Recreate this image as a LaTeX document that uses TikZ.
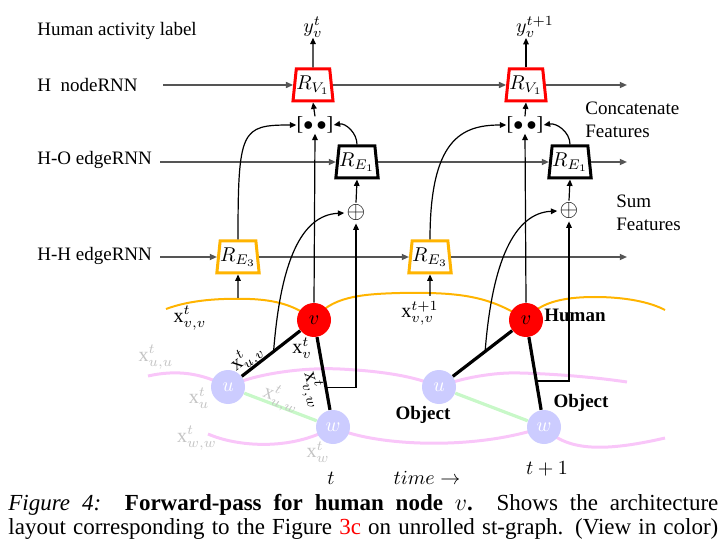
\documentclass[tikz,border=0pt]{standalone}
\usepackage{fontspec}
\setmainfont{Liberation Serif}
\usetikzlibrary{shapes.geometric,arrows.meta,calc}
\definecolor{hline}{HTML}{555555}
\definecolor{orng}{HTML}{FFB400}
\definecolor{pinkc}{HTML}{F9C6F9}
\definecolor{lav}{HTML}{CCCCFF}
\definecolor{grn}{HTML}{C8F8C8}
\definecolor{gtext}{HTML}{C4C4C4}
\begin{document}
\begin{tikzpicture}[x=0.5pt,y=-0.5pt,
  rnn/.style={trapezium, trapezium angle=80, trapezium stretches=true,
    minimum width=20pt, minimum height=16pt, inner sep=0pt, line width=1.5pt,
    fill=white, font=\fontsize{10}{12}\selectfont},
  hl/.style={draw=hline, line width=0.8pt, -{Triangle[length=3.6pt,width=3pt]}},
  ar/.style={draw=black, line width=0.6pt, -{Triangle[length=3.2pt,width=2.8pt]}},
  lbl/.style={font=\fontsize{9.5}{11.5}\selectfont, anchor=west, inner sep=0pt},
  xl/.style={font=\fontsize{10}{12}\selectfont, inner sep=0pt},
  gl/.style={xl, text=gtext},
  bl/.style={font=\fontsize{9.5}{11.5}\selectfont\bfseries, inner sep=0pt},
  hum/.style={circle, fill=red, minimum size=17pt, inner sep=0pt, font=\fontsize{10}{12}\selectfont},
  obj/.style={circle, fill=lav, text=white, minimum size=17pt, inner sep=0pt, font=\fontsize{10}{12}\selectfont},
  capl/.style={anchor=base west, inner sep=0pt, font=\fontsize{11.5}{13}\selectfont}]
\useasboundingbox (0,0) rectangle (727,555);

% row labels
\node[lbl] (lab0) at (37,31) {Human activity label};
\node[lbl] (lab1) at (37,85) {H\ \ nodeRNN};
\node[lbl] (lab2) at (37,160) {H-O edgeRNN};
\node[lbl] (lab3) at (37,256) {H-H edgeRNN};

% st-graph curves (drawn first, behind nodes)
\draw[orng, line width=1pt] (166,309) .. controls (190,300) and (220,298) .. (250,299)
  .. controls (275,300) and (295,305) .. (314,320);
\draw[orng, line width=1pt] (314,320) .. controls (330,297) and (360,294) .. (400,293)
  .. controls (460,292) and (490,296) .. (526,320);
\draw[orng, line width=1pt] (526,320) .. controls (540,300) and (570,297) .. (595,297)
  .. controls (625,297) and (650,302) .. (665,310);
\draw[pinkc, line width=1.5pt] (148,376) .. controls (175,370) and (200,372) .. (228,387);
\draw[pinkc, line width=1.5pt] (228,387) .. controls (250,375) and (300,367) .. (340,369)
  .. controls (380,371) and (415,376) .. (439,387);
\draw[pinkc, line width=1.5pt] (439,387) .. controls (460,378) and (495,372) .. (520,373)
  .. controls (560,374) and (600,378) .. (627,382);
\draw[pinkc, line width=1.5pt] (208,434) .. controls (235,446) and (290,452) .. (333,427);
\draw[pinkc, line width=1.5pt] (333,427) .. controls (370,445) and (470,452) .. (544,427);
\draw[pinkc, line width=1.5pt] (544,427) .. controls (565,450) and (600,453) .. (665,438);

% graph nodes
\node[hum] (v1) at (314,320) {$v$};
\node[hum] (v2) at (526,320) {$v$};
\node[obj] (u1) at (228,387) {$u$};
\node[obj] (u2) at (439,387) {$u$};
\node[obj] (w1) at (333,427) {$w$};
\node[obj] (w2) at (544,427) {$w$};

% graph edges
\draw[grn, line width=1.6pt] (u1) -- (w1);
\draw[grn, line width=1.6pt] (u2) -- (w2);
\draw[line width=1.6pt] (u1) -- (v1);
\draw[line width=1.6pt] (v1) -- (w1);
\draw[line width=1.6pt] (u2) -- (v2);
\draw[line width=1.6pt] (v2) -- (w2);

% RNN units
\node[rnn, draw=red] (RV1) at (313,85) {$R_{V_1}$};
\node[rnn, draw=red] (RV1b) at (526,85) {$R_{V_1}$};
\node[rnn, draw=black] (RE1) at (357,162) {$R_{E_1}$};
\node[rnn, draw=black] (RE1b) at (570,162) {$R_{E_1}$};
\node[rnn, draw=orng] (RE3) at (238,257) {$R_{E_3}$};
\node[rnn, draw=orng] (RE3b) at (430,257) {$R_{E_3}$};

\node[xl] (cat1) at (315,125) {[$\bullet\,\bullet$]};
\node[xl] (cat2) at (525,125) {[$\bullet\,\bullet$]};
\node[xl, inner sep=1pt, font=\fontsize{12}{14}\selectfont] (sum1) at (356,213) {$\oplus$};
\node[xl, inner sep=1pt, font=\fontsize{12}{14}\selectfont] (sum2) at (569,211) {$\oplus$};

\node[xl] (y1) at (313,27) {$y_v^t$};
\node[xl] (y2) at (535,27) {$y_v^{t+1}$};

% row line ends
\coordinate (s1) at (163,85);
\coordinate (s2) at (160,162);
\coordinate (s3) at (160,257);
\coordinate (e1) at (627,85);
\coordinate (e2) at (627,162);
\coordinate (e3) at (627,257);

\draw[hl] (s1) -- (RV1.west);
\draw[hl] (RV1.east) -- (RV1b.west);
\draw[hl] (RV1b.east) -- (e1);
\draw[hl] (s2) -- (RE1.west);
\draw[hl] (RE1.east) -- (RE1b.west);
\draw[hl] (RE1b.east) -- (e2);
\draw[hl] (s3) -- (RE3.west);
\draw[hl] (RE3.east) -- (RE3b.west);
\draw[hl] (RE3b.east) -- (e3);

% outputs
\draw[ar] (RV1.north) -- (y1.south);
\draw[ar] (RV1b.north) -- (RV1b.north |- y2.south);

% concatenation
\draw[ar] (cat1.north) -- (RV1.south);
\draw[ar] (cat2.north) -- (RV1b.south);
\draw[ar] (v1.north) -- (cat1.south);
\draw[ar] (v2.north) -- (cat2.south);
\draw[ar] (RE3.north) .. controls +(0,-110) and +(-55,0) .. (cat1.west);
\draw[ar] (RE3b.north) .. controls +(0,-100) and +(-45,0) .. (cat2.west);
\draw[ar] (RE1.north) to[out=90, in=10] (cat1.east);
\draw[ar] (RE1b.north) to[out=90, in=10] (cat2.east);

% sums
\draw[ar] (sum1.north) -- (RE1.south);
\draw[ar] (sum2.north) -- (RE1b.south);
\coordinate (vw1) at ($(v1)!0.63!(w1)$);
\coordinate (vw2) at ($(v2)!0.57!(w2)$);
\coordinate (uv1) at ($(u1)!0.53!(v1)$);
\coordinate (uv2) at ($(u2)!0.53!(v2)$);
\draw[ar] (vw1) -| (sum1.south);
\draw[ar] (vw2) -| (sum2.south);
\draw[ar] (uv1) .. controls +(7,-90) and +(-43,2) .. (sum1.west);
\draw[ar] (uv2) .. controls +(7,-90) and +(-43,2) .. (sum2.west);

% inputs to RE3
\coordinate (o1) at (238,298);
\coordinate (o2) at (430,296);
\draw[ar] (o1) -- (RE3.south);
\draw[ar] (o2) -- (RE3b.south);

% feature labels
\node[xl] (lvv) at (190,318) {$\mathrm{x}^t_{v,v}$};
\node[xl] (lvv2) at (420,313) {$\mathrm{x}^{t+1}_{v,v}$};
\node[xl, rotate=38] (luv) at (247,358) {$\mathrm{x}^t_{u,v}$};
\node[xl] (lv) at (302,348) {$\mathrm{x}^t_{v}$};
\node[xl, rotate=-75] (lvw) at (313,390) {$\mathrm{x}^t_{v,w}$};
\node[gl] (luu) at (156,357) {$\mathrm{x}^t_{u,u}$};
\node[gl] (lu) at (199,398) {$\mathrm{x}^t_{u}$};
\node[gl, rotate=-21] (luw) at (281,399) {$\mathrm{x}^t_{u,w}$};
\node[gl] (lww) at (197,438) {$\mathrm{x}^t_{w,w}$};
\node[gl] (lw) at (318,452) {$\mathrm{x}^t_{w}$};

\node[bl] (hum) at (575,315) {Human};
\node[bl] (ob1) at (423,415) {Object};
\node[bl] (ob2) at (581,403) {Object};

\node[xl] (tt) at (331,478) {$t$};
\node[xl] (time) at (427,478) {$time\rightarrow$};
\node[xl] (tt1) at (547,469) {$t+1$};

\node[lbl, align=left, font=\fontsize{9.5}{11.5}\selectfont] (cf) at (585,120) {Concatenate\\Features};
\node[lbl, align=left, font=\fontsize{9.5}{11.5}\selectfont] (sf) at (616,213) {Sum\\Features};

% caption
\node[capl] (cap1) at (8,510) {\makebox[355pt][s]{\textit{Figure 4:}\ \ \textbf{Forward-pass for human node $v$.}\ \ Shows the architecture}};
\node[capl] (cap2) at (8,534) {\makebox[355pt][s]{layout corresponding to the Figure \textcolor{red}{3c} on unrolled st-graph. (View in color)}};
\end{tikzpicture}
\end{document}
